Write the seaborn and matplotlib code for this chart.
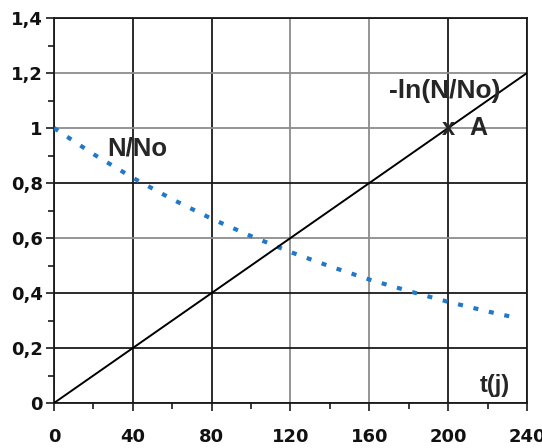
import numpy as np
import pandas as pd
import matplotlib
matplotlib.use('Agg')
import matplotlib.pyplot as plt
import seaborn as sns
from matplotlib.ticker import MultipleLocator, FuncFormatter

# --- Datos ---
t_dias = [0, 20, 40, 60, 80, 100, 120, 140, 160, 180, 200, 220, 235]
n_sobre_no = [1.0, 0.905, 0.819, 0.741, 0.670, 0.607, 0.549, 0.497, 0.449, 0.407, 0.368, 0.333, 0.309]
t_recta = [0, 240]
ln_recta = [0.0, 1.2]
punto_a = (200, 1.0)

df_curva = pd.DataFrame({'t': t_dias, 'N': n_sobre_no})
df_recta = pd.DataFrame({'t': t_recta, 'lnN': ln_recta})

sns.set_style('white')
plt.rcParams['font.family'] = ['Liberation Sans', 'DejaVu Sans']

fig = plt.figure(figsize=(5.42, 4.48), dpi=100)
ax = fig.add_axes([0.0996, 0.1004, 0.8727, 0.8594])

# curva N/No en puntos azules
sns.lineplot(data=df_curva, x='t', y='N', ax=ax, color='#2278c8', lw=3.0,
             linestyle=(0, (1.2, 2.6)), zorder=3)
# recta -ln(N/No)
sns.lineplot(data=df_recta, x='t', y='lnN', ax=ax, color='black', lw=1.4, zorder=3)

ax.set_xlim(0, 240)
ax.set_ylim(0, 1.4)
ax.xaxis.set_major_locator(MultipleLocator(40))
ax.xaxis.set_minor_locator(MultipleLocator(20))
ax.yaxis.set_major_locator(MultipleLocator(0.2))
ax.yaxis.set_minor_locator(MultipleLocator(0.1))
ax.yaxis.set_major_formatter(FuncFormatter(lambda v, p: ('%g' % round(v, 1)).replace('.', ',')))

ax.grid(True, which='major', color='#1a1a1a', lw=1.3)

for s in ax.spines.values():
    s.set_color('#1a1a1a')
    s.set_linewidth(1.3)

ax.tick_params(which='major', direction='out', length=6, width=1.2, color='#1a1a1a',
               left=True, bottom=True, labelsize=13)
ax.tick_params(which='minor', direction='out', length=4, width=1.2, color='#1a1a1a',
               left=True, bottom=True)
ax.tick_params(axis='x', which='major', pad=12)
ax.tick_params(axis='y', which='major', pad=2)
ax.set_xlabel('')
ax.set_ylabel('')

fig.canvas.draw()
# algunas líneas se ven grises en el original
for tk in ax.xaxis.get_major_ticks():
    if round(tk.get_loc()) in (120, 160):
        tk.gridline.set_color('#8c8c8c')
for tk in ax.yaxis.get_major_ticks():
    if round(tk.get_loc(), 1) in (0.6, 1.0, 1.2):
        tk.gridline.set_color('#8c8c8c')
for lab in ax.get_xticklabels() + ax.get_yticklabels():
    lab.set_fontfamily('DejaVu Sans')
    lab.set_fontweight('bold')
    lab.set_color('#111111')

# textos
ax.text(27, 0.925, 'N/No', fontsize=18.5, fontweight='bold', va='center', ha='left')
ax.text(170, 1.135, '-ln(N/No)', fontsize=19, fontweight='bold', va='center', ha='left')
ax.text(punto_a[0], punto_a[1], 'x', fontsize=17, fontweight='bold', va='center', ha='center', zorder=4)
ax.text(punto_a[0] + 11, punto_a[1], 'A', fontsize=18, fontweight='bold', va='center', ha='left')
ax.text(216, 0.065, 't(j)', fontsize=17, fontweight='bold', va='center', ha='left')

fig.savefig('out.png', dpi=100)
